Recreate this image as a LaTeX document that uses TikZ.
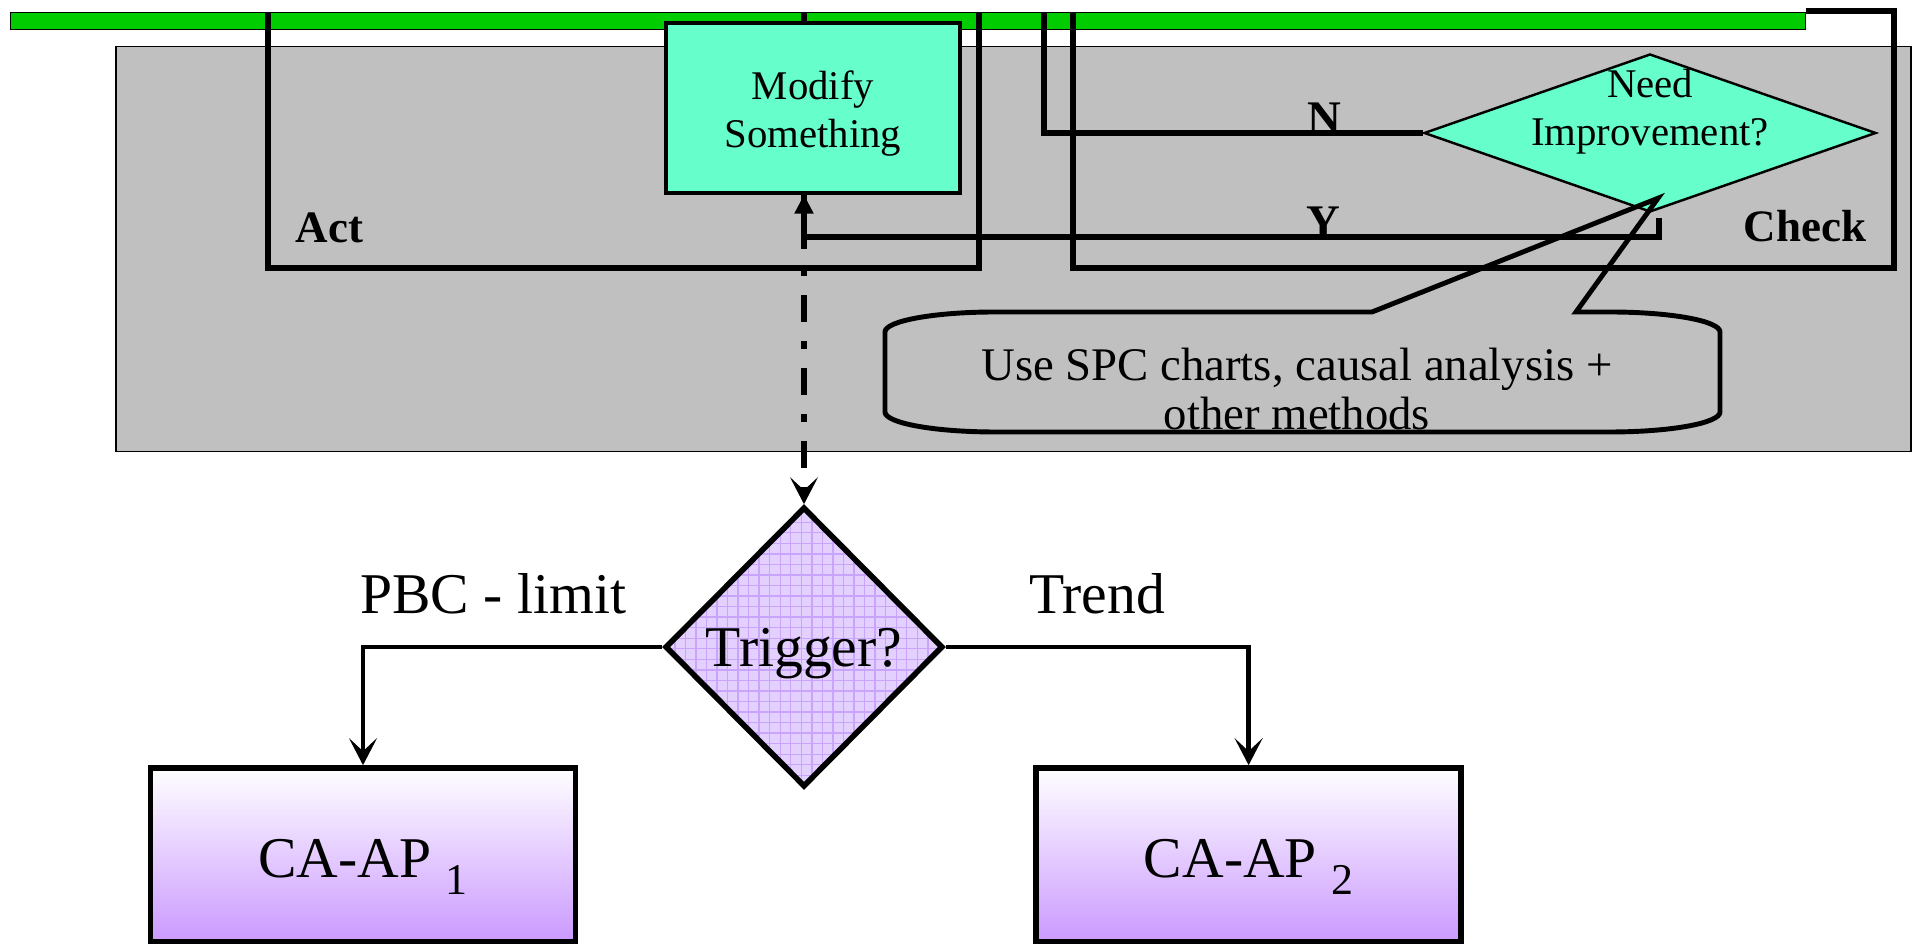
\documentclass[tikz,border=0pt]{standalone}
\usepackage{fontspec}
\setmainfont{Liberation Serif}
\usepackage{tikz}
\usetikzlibrary{arrows.meta,shapes.geometric,patterns,positioning}

\definecolor{bargreen}{HTML}{00CC00}
\definecolor{panelgray}{HTML}{C0C0C0}
\definecolor{aqua}{HTML}{66FFCC}
\definecolor{lilac}{HTML}{E3D0FF}
\definecolor{lilacgrid}{HTML}{C8A4FA}
\definecolor{apviolet}{HTML}{CA99FF}

% lowered index after the plan name
\newcommand{\apsub}[1]{\raisebox{-4.8pt}{\fontsize{12.5}{14}\selectfont #1}}

\begin{document}
\begin{tikzpicture}[>={Stealth[length=0.27cm,width=0.28cm,inset=0.13cm]}]
  \tikzstyle{bar}=[draw,line width=0.4pt,fill=bargreen,inner sep=0pt,
                   minimum width=17.955cm,minimum height=0.17cm]
  \tikzstyle{panel}=[draw,line width=0.4pt,fill=panelgray,inner sep=0pt,
                     minimum width=17.95cm,minimum height=4.05cm]
  \tikzstyle{process}=[draw,line width=0.9pt,fill=aqua,align=center,
                       minimum width=2.94cm,minimum height=1.70cm,
                       text height=0.88cm,
                       font=\fontsize{11.6}{13.6}\selectfont]
  \tikzstyle{decision}=[diamond,draw,line width=0.7pt,fill=aqua,inner sep=0pt,
                        minimum width=4.52cm,minimum height=1.58cm]
  \tikzstyle{trig}=[diamond,draw,line width=1.6pt,inner sep=0pt,
                    preaction={fill=lilac},pattern=grid,pattern color=lilacgrid,
                    minimum width=2.78cm,minimum height=2.80cm,
                    text height=0.5cm,text depth=0.1cm,
                    font=\fontsize{16.4}{19}\selectfont]
  \tikzstyle{apbox}=[draw,line width=1.6pt,top color=white,bottom color=apviolet,
                     minimum width=4.25cm,minimum height=1.74cm,
                     text height=0.6cm,text depth=0.14cm,
                     font=\fontsize{16.4}{19}\selectfont]
  \tikzstyle{tag}=[inner sep=0pt,font=\bfseries\fontsize{12.8}{15}\selectfont]
  \tikzstyle{yn}=[above,inner sep=0pt,yshift=-0.03cm,
                  font=\bfseries\fontsize{13.3}{15}\selectfont]
  \tikzstyle{lbl}=[above=0.3cm,inner sep=0pt,font=\fontsize{16.4}{19}\selectfont]
  \tikzstyle{loopline}=[line width=1.6pt]
  \tikzstyle{branch}=[->,line width=1.4pt]
  \tikzstyle{feedback}=[->,line width=1.7pt,
                        dash pattern=on 0.27cm off 0.19cm on 0.08cm off 0.19cm,
                        dash phase=0.09cm]
  \tikzstyle{callout}=[line width=1.4pt]

  \useasboundingbox[fill=white] (0,0) rectangle (19.16,9.44);

  % top band and the act/check panel
  \node[bar]   (bar)   at (9.08,9.227) {};
  \node[panel] (panel) at (10.135,6.947) {};

  \draw[loopline] (2.68,9.31) |- (9.79,6.76) -- (9.79,9.31);
  \draw[loopline] (10.73,9.31) |- (18.94,6.76) -- (18.94,9.33) -- (18.06,9.33);
  \node[tag,anchor=base west] (act)   at (2.95,7.01)  {Act};
  \node[tag,anchor=base east] (check) at (18.67,7.02) {Check};

  % trigger and the dash-dotted feed down to it
  \node[trig] (trigger) at (8.04,2.97) {Trigger?};
  \draw[feedback] (bar.north -| trigger.north) -- (trigger.north);

  \node[process] (modify) at (8.13,8.36) {Modify\\Something};
  \node[decision,label={[align=center,yshift=0.215cm,
        font=\fontsize{11.6}{13.6}\selectfont]center:Need\\Improvement?}]
        (need) at (16.50,8.11) {};

  \draw[loopline] (need.west) -- node[yn,pos=0.26] {N} (10.44,8.11) -- (10.44,9.31);
  \draw[loopline,-{Triangle[length=0.19cm,width=0.18cm]}]
        ([xshift=0.09cm,yshift=-0.05cm]need.south) -- ++(0,-0.19)
        -| node[yn,pos=0.196] {Y} (modify.south -| trigger.north);

  % callout under the check box
  \draw[callout] (13.72,6.32) -- ([xshift=0.08cm,yshift=0.15cm]need.south)
        -- (15.76,6.32) -- (16.10,6.32)
        arc[start angle=90,end angle=0,x radius=1.1,y radius=0.2] -- (17.20,5.32)
        arc[start angle=0,end angle=-90,x radius=1.1,y radius=0.2] -- (9.95,5.12)
        arc[start angle=270,end angle=180,x radius=1.1,y radius=0.2] -- (8.85,6.12)
        arc[start angle=180,end angle=90,x radius=1.1,y radius=0.2] -- cycle;
  \node[align=center,font=\fontsize{13.3}{14.2}\selectfont] (spc) at (12.97,5.55)
        {Use SPC charts, causal analysis +\\other methods};

  % the two action plans
  \node[apbox] (cap1) at (3.63,0.89) {CA-AP \apsub{1}};
  \node[apbox,right=4.55cm of cap1] (cap2) {CA-AP \apsub{2}};

  \draw[branch] (trigger.west) -- node[lbl,pos=0.565] {PBC - limit}
        (trigger.west -| cap1.north) -- (cap1.north);
  \draw[branch] (trigger.east) -- node[lbl] {Trend}
        (trigger.east -| cap2.north) -- (cap2.north);
\end{tikzpicture}
\end{document}
